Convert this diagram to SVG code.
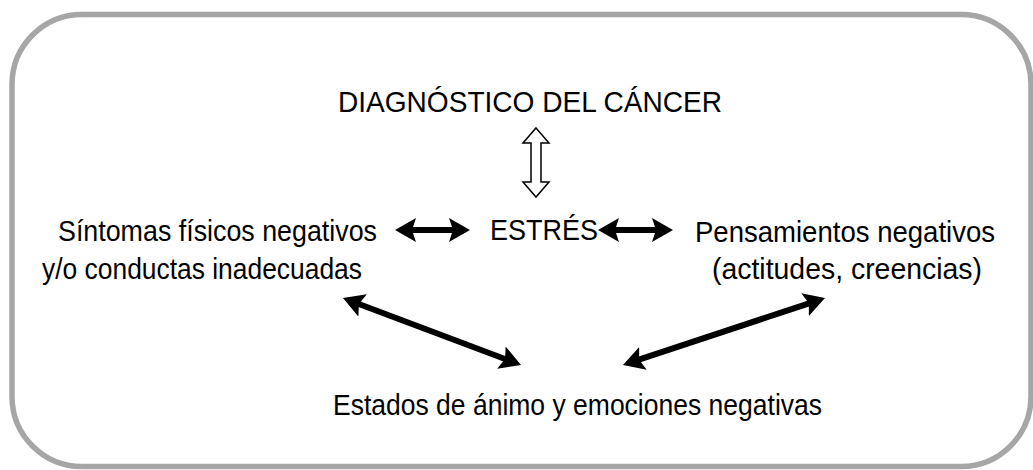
<svg xmlns="http://www.w3.org/2000/svg" width="1033" height="470" viewBox="0 0 1033 470">
  <style>
    .t { font-family: "Liberation Sans", Arial, sans-serif; font-size: 30px; fill: #000; }
    .ln { stroke: #000; stroke-width: 6; fill: none; marker-start: url(#ah); marker-end: url(#ah); }
  </style>
  <defs>
    <marker id="ah" markerUnits="userSpaceOnUse" viewBox="0 0 22 24" markerWidth="22" markerHeight="24" refX="9" refY="12" orient="auto-start-reverse">
      <path d="M0,0 L21,12 L0,24 L4,12 z" fill="#000"/>
    </marker>
  </defs>
  <rect x="0" y="0" width="1033" height="470" fill="#fff"/>
  <rect id="frame" x="12" y="14.5" width="1019" height="452" rx="70" ry="70" fill="#fff" stroke="#a6a6a6" stroke-width="5.5"/>

  <g id="diagnostico">
    <text class="t" x="338" y="112" font-size="32" textLength="384" lengthAdjust="spacingAndGlyphs">DIAGNÓSTICO DEL CÁNCER</text>
  </g>
  <g id="estres">
    <text class="t" x="490" y="240" textLength="108" lengthAdjust="spacingAndGlyphs">ESTRÉS</text>
  </g>
  <g id="sintomas">
    <text class="t" x="58" y="241" textLength="319" lengthAdjust="spacingAndGlyphs">Síntomas físicos negativos</text>
    <text class="t" x="42" y="279" textLength="320" lengthAdjust="spacingAndGlyphs">y/o conductas inadecuadas</text>
  </g>
  <g id="pensamientos">
    <text class="t" x="695" y="242" textLength="300" lengthAdjust="spacingAndGlyphs">Pensamientos negativos</text>
    <text class="t" x="712" y="279" textLength="270" lengthAdjust="spacingAndGlyphs">(actitudes, creencias)</text>
  </g>
  <g id="estados">
    <text class="t" x="333" y="415" textLength="489" lengthAdjust="spacingAndGlyphs">Estados de ánimo y emociones negativas</text>
  </g>

  <g id="connectors">
    <polygon points="536,128 549,143 541,143 541,182 549,182 536,197 523,182 531,182 531,143 523,143" fill="#fff" stroke="#000" stroke-width="1.5" stroke-linejoin="miter"/>
    <line class="ln" x1="407" y1="230" x2="458" y2="230"/>
    <line class="ln" x1="610" y1="230" x2="661" y2="230"/>
    <line class="ln" x1="354.2" y1="302.2" x2="509.8" y2="360.8"/>
    <line class="ln" x1="634.4" y1="361.2" x2="813.6" y2="301.8"/>
  </g>
</svg>
